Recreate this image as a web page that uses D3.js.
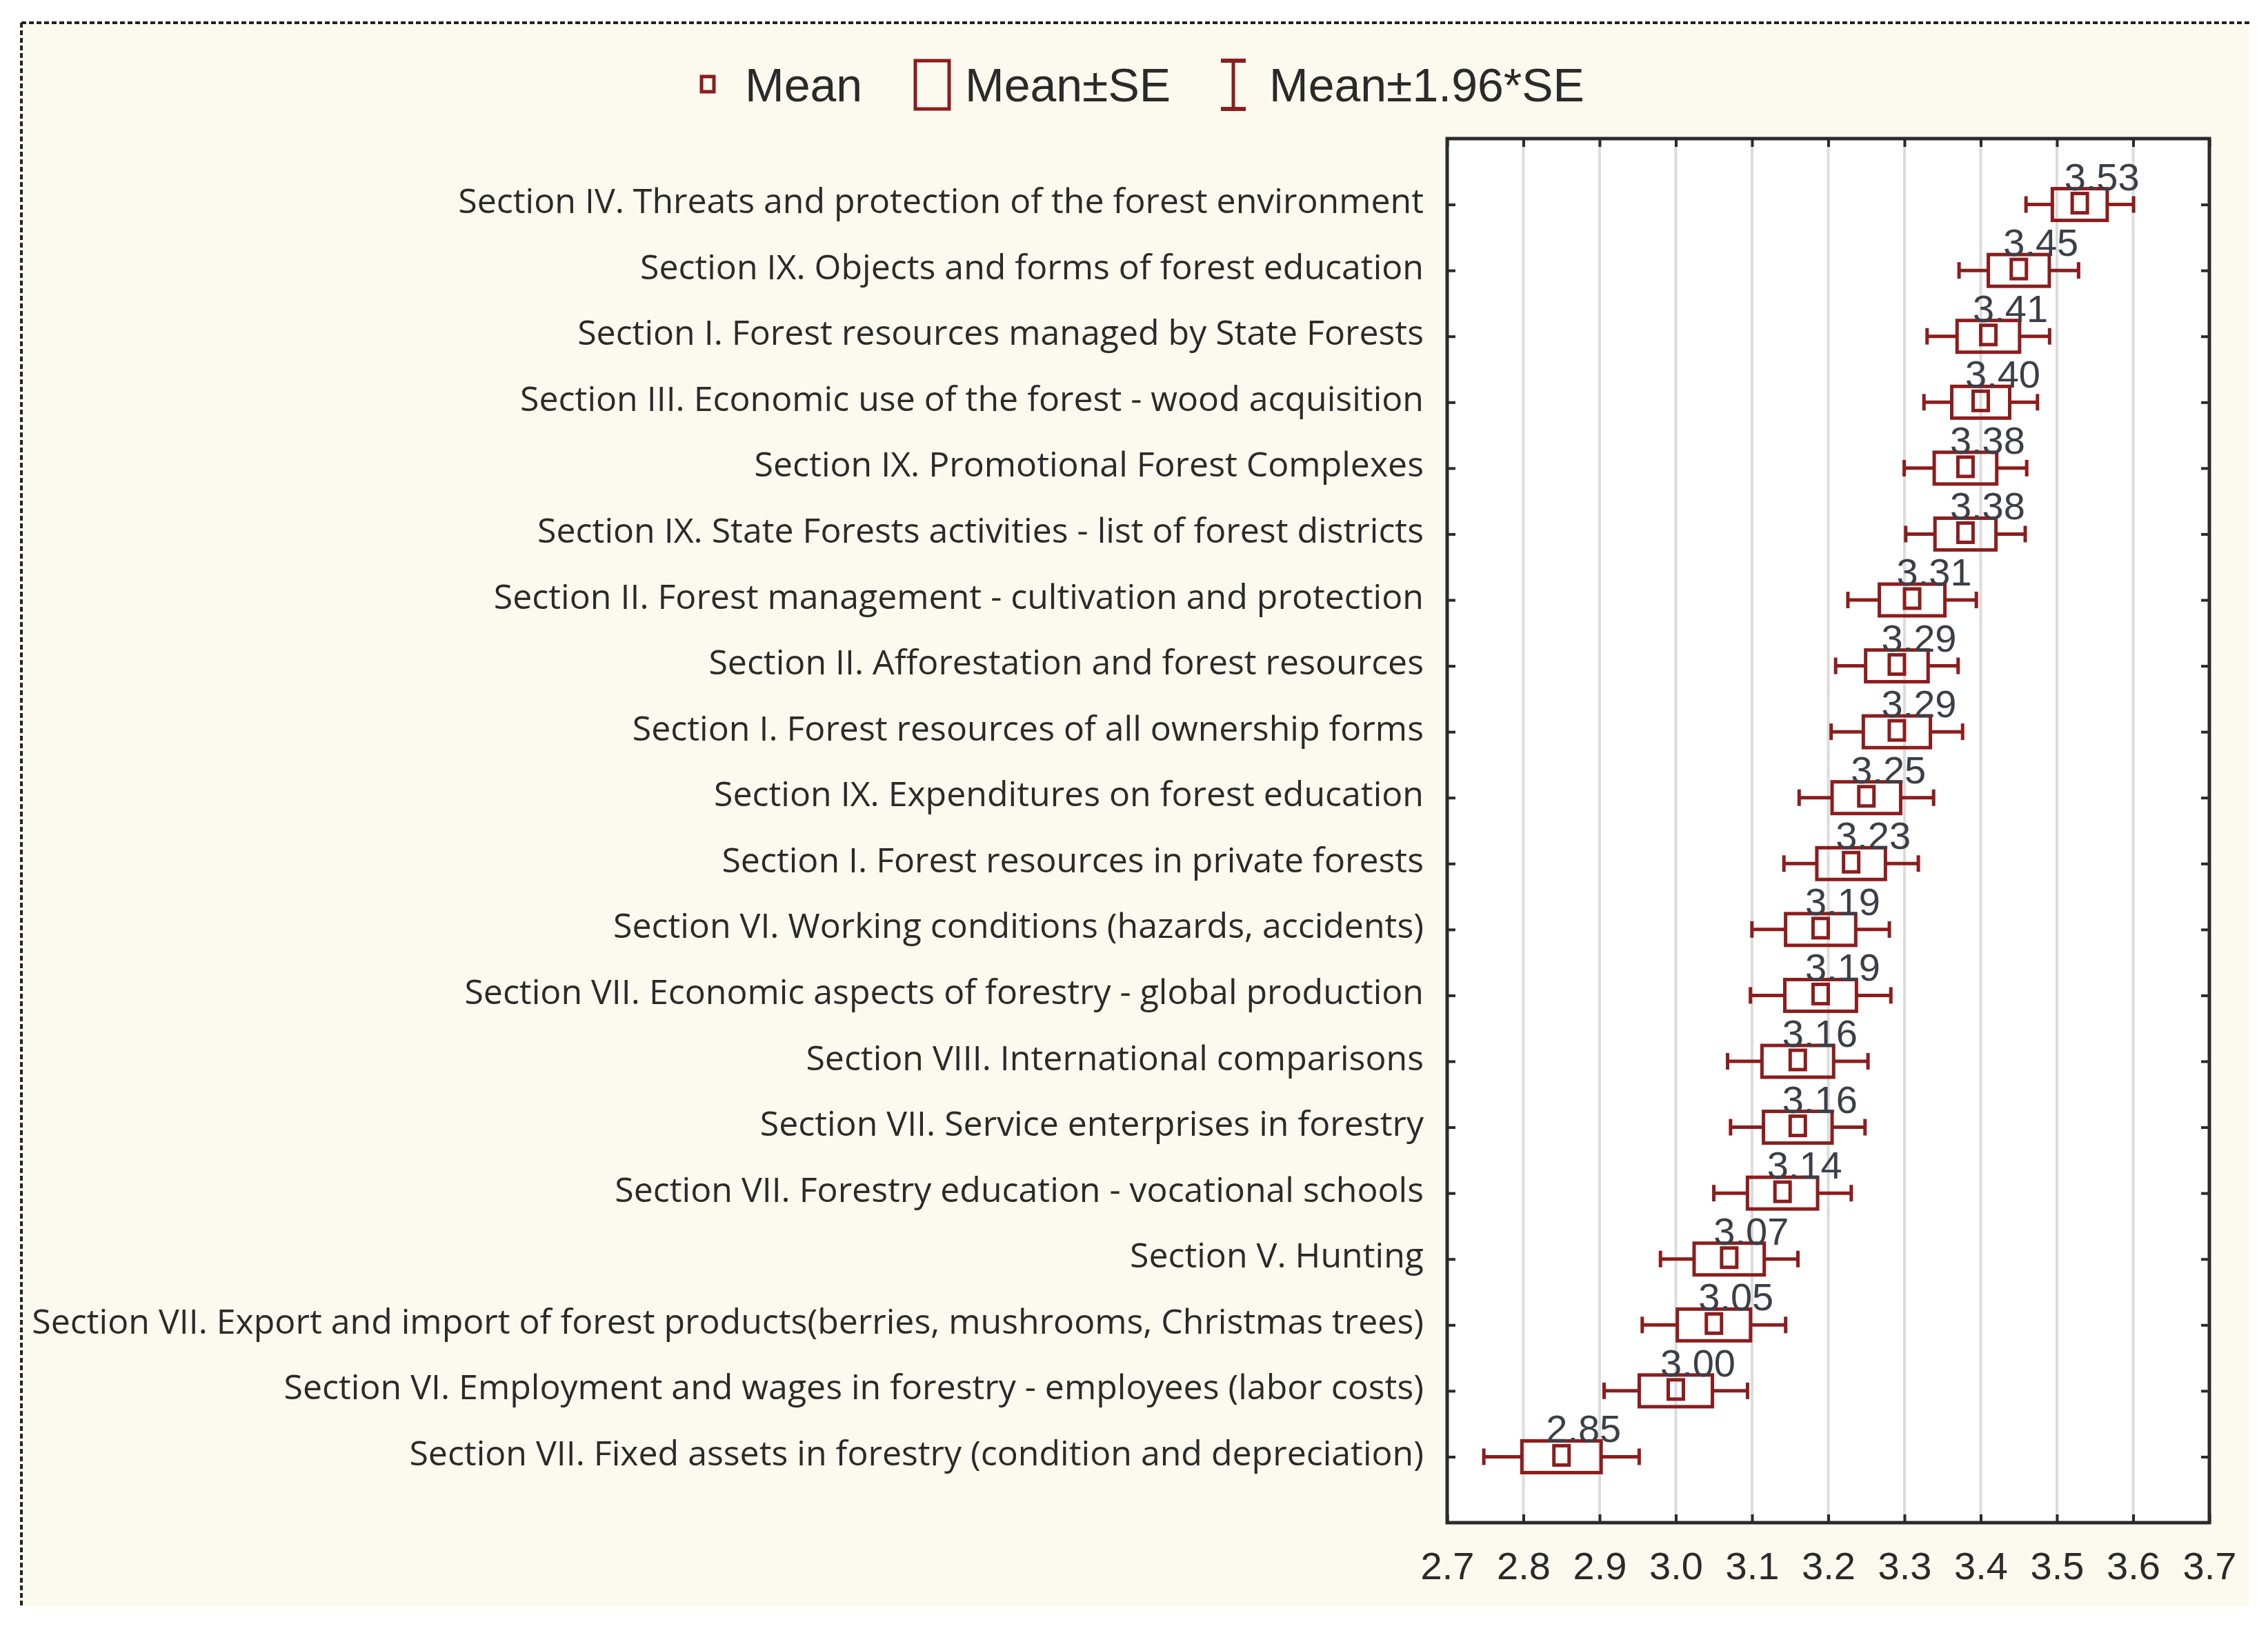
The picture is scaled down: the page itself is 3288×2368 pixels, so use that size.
<!DOCTYPE html>
<html>
<head>
<meta charset="utf-8">
<script src="https://cdn.jsdelivr.net/npm/d3@7/dist/d3.min.js"></script>
<style>
  html, body { margin: 0; padding: 0; background: #ffffff; }
  svg { display: block; }
</style>
</head>
<body>
<svg id="chart" width="3288" height="2368"></svg>
<script>
// ---- data ----
const categories = [
  "Section IV. Threats and protection of the forest environment",
  "Section IX. Objects and forms of forest education",
  "Section I. Forest resources managed by State Forests",
  "Section III. Economic use of the forest - wood acquisition",
  "Section IX. Promotional Forest Complexes",
  "Section IX. State Forests activities - list of forest districts",
  "Section II. Forest management - cultivation and protection",
  "Section II. Afforestation and forest resources",
  "Section I. Forest resources of all ownership forms",
  "Section IX. Expenditures on forest education",
  "Section I. Forest resources in private forests",
  "Section VI. Working conditions (hazards, accidents)",
  "Section VII. Economic aspects of forestry - global production",
  "Section VIII. International comparisons",
  "Section VII. Service enterprises in forestry",
  "Section VII. Forestry education - vocational schools",
  "Section V. Hunting",
  "Section VII. Export and import of forest products(berries, mushrooms, Christmas trees)",
  "Section VI. Employment and wages in forestry - employees (labor costs)",
  "Section VII. Fixed assets in forestry (condition and depreciation)"
];
const means = [3.53, 3.45, 3.41, 3.40, 3.38, 3.38, 3.31, 3.29, 3.29, 3.25,
               3.23, 3.19, 3.19, 3.16, 3.16, 3.14, 3.07, 3.05, 3.00, 2.85];
const standardErrors = [0.036, 0.040, 0.041, 0.038, 0.041, 0.040, 0.043, 0.041, 0.044, 0.045,
                        0.045, 0.046, 0.047, 0.047, 0.045, 0.046, 0.046, 0.048, 0.048, 0.052];
const xTicks = [2.7, 2.8, 2.9, 3.0, 3.1, 3.2, 3.3, 3.4, 3.5, 3.6, 3.7];
const legendLabels = ["Mean", "Mean\u00B1SE", "Mean\u00B11.96*SE"];

const rows = categories.map((c, i) => ({ cat: c, mean: means[i], se: standardErrors[i] }));

// ---- layout ----
const svg = d3.select("#chart");
const RED = "#8c1d1d";
const INK = "#2a2a2a";
const plot = { left: 2098, right: 3203, top: 201, bottom: 2208 };

const x = d3.scaleLinear().domain([2.7, 3.7]).range([plot.left, plot.right]);
const y = d3.scalePoint().domain(categories).range([plot.top, plot.bottom]).padding(1);

// cream panel with dashed frame (top + left)
svg.append("rect").attr("x", 31).attr("y", 33).attr("width", 3229).attr("height", 2297)
  .attr("fill", "#fcf9ef");
svg.append("line").attr("x1", 31).attr("x2", 3262).attr("y1", 33).attr("y2", 33)
  .attr("stroke", "#222").attr("stroke-width", 4).attr("stroke-dasharray", "7,4");
svg.append("line").attr("x1", 31).attr("x2", 31).attr("y1", 33).attr("y2", 2332)
  .attr("stroke", "#222").attr("stroke-width", 4).attr("stroke-dasharray", "7,4");

// plot background
svg.append("rect").attr("x", plot.left).attr("y", plot.top)
  .attr("width", plot.right - plot.left).attr("height", plot.bottom - plot.top)
  .attr("fill", "#ffffff");

// grid lines
svg.append("g").selectAll("line").data(xTicks.slice(1, -1)).join("line")
  .attr("x1", d => x(d)).attr("x2", d => x(d))
  .attr("y1", plot.top).attr("y2", plot.bottom)
  .attr("stroke", "#dcdcdc").attr("stroke-width", 4);

// axes
function styleAxis(g) {
  g.select(".domain").remove();
  g.selectAll(".tick line").attr("stroke", INK).attr("stroke-width", 4);
}
const gBottom = svg.append("g").attr("transform", `translate(0,${plot.bottom})`)
  .call(d3.axisBottom(x).tickValues(xTicks).tickFormat(d3.format(".1f")).tickSize(-12).tickPadding(0));
styleAxis(gBottom);
gBottom.selectAll(".tick text")
  .attr("y", 82).attr("dy", null)
  .attr("font-family", "Arial, 'Liberation Sans', sans-serif")
  .attr("font-size", 56).attr("fill", INK);

const gTop = svg.append("g").attr("transform", `translate(0,${plot.top})`)
  .call(d3.axisTop(x).tickValues(xTicks).tickSize(-12).tickFormat(""));
styleAxis(gTop);

const gLeft = svg.append("g").attr("transform", `translate(${plot.left},0)`)
  .call(d3.axisLeft(y).tickSize(-12).tickPadding(34));
styleAxis(gLeft);
gLeft.selectAll(".tick text")
  .attr("dy", 12)
  .attr("font-family", "'Open Sans', 'Noto Sans', sans-serif")
  .attr("font-size", 50).attr("fill", INK);

const gRight = svg.append("g").attr("transform", `translate(${plot.right},0)`)
  .call(d3.axisRight(y).tickSize(-12).tickFormat(""));
styleAxis(gRight);

// frame
svg.append("rect").attr("x", plot.left).attr("y", plot.top)
  .attr("width", plot.right - plot.left).attr("height", plot.bottom - plot.top)
  .attr("fill", "none").attr("stroke", INK).attr("stroke-width", 5);

// ---- marks ----
const boxH = 46, capH = 24, meanW = 22, meanH = 28;
const g = svg.append("g").selectAll("g").data(rows).join("g");

// whiskers
g.append("line")
  .attr("x1", d => x(d.mean - 1.96 * d.se)).attr("x2", d => x(d.mean - d.se))
  .attr("y1", d => y(d.cat)).attr("y2", d => y(d.cat))
  .attr("stroke", RED).attr("stroke-width", 5);
g.append("line")
  .attr("x1", d => x(d.mean + d.se)).attr("x2", d => x(d.mean + 1.96 * d.se))
  .attr("y1", d => y(d.cat)).attr("y2", d => y(d.cat))
  .attr("stroke", RED).attr("stroke-width", 5);
g.append("line")
  .attr("x1", d => x(d.mean - 1.96 * d.se)).attr("x2", d => x(d.mean - 1.96 * d.se))
  .attr("y1", d => y(d.cat) - capH / 2).attr("y2", d => y(d.cat) + capH / 2)
  .attr("stroke", RED).attr("stroke-width", 5);
g.append("line")
  .attr("x1", d => x(d.mean + 1.96 * d.se)).attr("x2", d => x(d.mean + 1.96 * d.se))
  .attr("y1", d => y(d.cat) - capH / 2).attr("y2", d => y(d.cat) + capH / 2)
  .attr("stroke", RED).attr("stroke-width", 5);

// SE box
g.append("rect")
  .attr("x", d => x(d.mean - d.se)).attr("width", d => x(d.mean + d.se) - x(d.mean - d.se))
  .attr("y", d => y(d.cat) - boxH / 2).attr("height", boxH)
  .attr("fill", "none").attr("stroke", RED).attr("stroke-width", 5);

// mean marker
g.append("rect")
  .attr("x", d => x(d.mean) - meanW / 2).attr("width", meanW)
  .attr("y", d => y(d.cat) - meanH / 2 - 2).attr("height", meanH)
  .attr("fill", "none").attr("stroke", RED).attr("stroke-width", 5);

// value labels
g.append("text")
  .attr("x", d => x(d.mean) + 32).attr("y", d => y(d.cat) - 21)
  .attr("text-anchor", "middle")
  .attr("font-family", "Arial, 'Liberation Sans', sans-serif")
  .attr("font-size", 56).attr("fill", "#3a3f48")
  .text(d => d.mean.toFixed(2));

// ---- legend ----
const lg = svg.append("g");
const legendFont = "Arial, 'Liberation Sans', sans-serif";
lg.append("rect").attr("x", 1017).attr("y", 111).attr("width", 18).attr("height", 22)
  .attr("fill", "none").attr("stroke", RED).attr("stroke-width", 5);
lg.append("rect").attr("x", 1327).attr("y", 88).attr("width", 49).attr("height", 70)
  .attr("fill", "none").attr("stroke", RED).attr("stroke-width", 5);
lg.append("line").attr("x1", 1788).attr("x2", 1788).attr("y1", 88).attr("y2", 158)
  .attr("stroke", RED).attr("stroke-width", 5);
lg.append("line").attr("x1", 1770).attr("x2", 1806).attr("y1", 88).attr("y2", 88)
  .attr("stroke", RED).attr("stroke-width", 6);
lg.append("line").attr("x1", 1770).attr("x2", 1806).attr("y1", 158).attr("y2", 158)
  .attr("stroke", RED).attr("stroke-width", 6);
const legendX = [1080, 1399, 1840];
lg.selectAll("text").data(legendLabels).join("text")
  .attr("x", (d, i) => legendX[i]).attr("y", 147)
  .attr("font-family", legendFont).attr("font-size", 68).attr("fill", INK)
  .text(d => d);
</script>
</body>
</html>
